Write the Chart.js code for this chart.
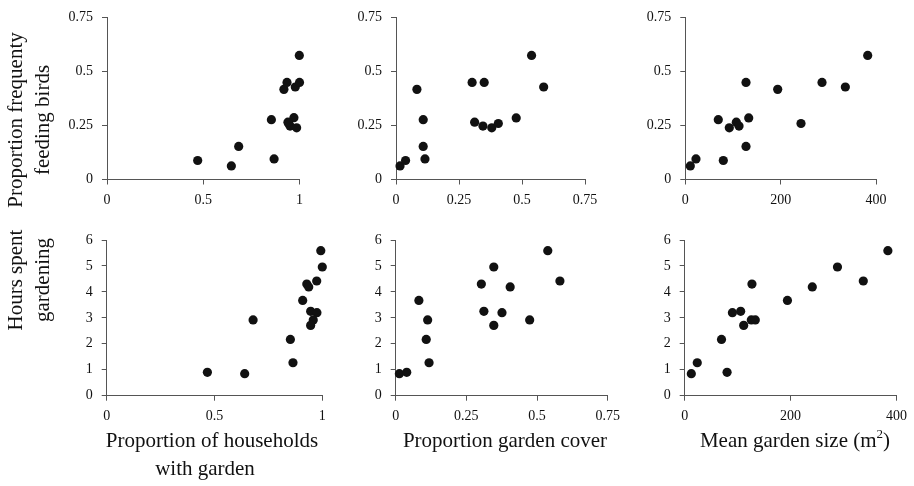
<!DOCTYPE html>
<html><head><meta charset="utf-8">
<script src="https://cdn.jsdelivr.net/npm/chart.js@4"></script>
<style>
html,body{margin:0;padding:0;background:#fff;}
#wrap{position:relative;width:914px;height:486px;overflow:hidden;font-family:'Liberation Serif','Times New Roman',serif;color:#111;}
canvas{position:absolute;left:0;top:0;}
.t{position:absolute;font-size:21px;line-height:21px;white-space:nowrap;transform:translateX(-50%);}
.r{position:absolute;font-size:21px;line-height:27px;white-space:nowrap;text-align:center;transform:translate(-50%,-50%) rotate(-90deg);}
sup{font-size:13px;line-height:0;vertical-align:9px;}
</style></head>
<body>
<div id="wrap">
  <div class="r" style="left:29px;top:120px;">Proportion frequenty<br>feeding birds</div>
  <div class="r" style="left:29px;top:280px;">Hours spent<br>gardening</div>
  <div class="t" style="left:212px;top:430px;">Proportion of households</div>
  <div class="t" style="left:205px;top:458px;">with garden</div>
  <div class="t" style="left:505px;top:430px;">Proportion garden cover</div>
  <div class="t" style="left:795px;top:430px;">Mean garden size (m<sup>2</sup>)</div>
</div>
<script>
// Tick values and labels
const xTicksHouse = [0, 0.5, 1];
const xLabelsHouse = ['0', '0.5', '1'];
const xTicksCover = [0, 0.25, 0.5, 0.75];
const xLabelsCover = ['0', '0.25', '0.5', '0.75'];
const xTicksSize = [0, 200, 400];
const xLabelsSize = ['0', '200', '400'];
const yTicksFeed = [0, 0.25, 0.5, 0.75];
const yLabelsFeed = ['0', '0.25', '0.5', '0.75'];
const yTicksHours = [0, 1, 2, 3, 4, 5, 6];
const yLabelsHours = ['0', '1', '2', '3', '4', '5', '6'];

// Panel 1: households with garden vs proportion feeding birds
const houseFeedX = [0.471, 0.646, 0.684, 0.854, 0.868, 0.919, 0.935, 0.978, 0.999, 1.0, 0.971, 0.944, 0.951, 0.985, 0.940];
const houseFeedY = [0.088, 0.063, 0.153, 0.277, 0.095, 0.417, 0.449, 0.428, 0.574, 0.449, 0.286, 0.259, 0.247, 0.239, 0.265];
// Panel 2: garden cover vs proportion feeding birds
const coverFeedX = [0.016, 0.038, 0.083, 0.108, 0.108, 0.115, 0.302, 0.312, 0.350, 0.345, 0.380, 0.406, 0.477, 0.538, 0.586];
const coverFeedY = [0.063, 0.088, 0.417, 0.277, 0.153, 0.095, 0.449, 0.265, 0.449, 0.247, 0.239, 0.259, 0.285, 0.574, 0.428];
// Panel 3: garden size vs proportion feeding birds
const sizeFeedX = [10.5, 22.4, 79.7, 69.2, 92.3, 107, 112.7, 133, 127.3, 127.3, 193.8, 242.7, 286.8, 335.7, 382.6];
const sizeFeedY = [0.063, 0.095, 0.088, 0.277, 0.239, 0.265, 0.247, 0.285, 0.449, 0.153, 0.417, 0.259, 0.449, 0.428, 0.574];
// Panel 4: households with garden vs hours gardening
const houseHoursX = [0.467, 0.640, 0.679, 0.852, 0.864, 0.909, 0.928, 0.937, 0.974, 0.993, 1.0, 0.946, 0.975, 0.958, 0.946];
const houseHoursY = [0.90, 0.85, 2.92, 2.17, 1.27, 3.67, 4.30, 4.19, 4.42, 5.59, 4.96, 3.25, 3.20, 2.92, 2.71];
// Panel 5: garden cover vs hours gardening
const coverHoursX = [0.013, 0.039, 0.082, 0.113, 0.108, 0.118, 0.303, 0.312, 0.347, 0.347, 0.376, 0.405, 0.474, 0.538, 0.581];
const coverHoursY = [0.85, 0.90, 3.67, 2.92, 2.17, 1.27, 4.30, 3.25, 4.96, 2.71, 3.20, 4.19, 2.92, 5.59, 4.42];
// Panel 6: garden size vs hours gardening
const sizeHoursX = [12.5, 23.7, 69.5, 80.0, 90.1, 105.7, 111.4, 127, 125.8, 133.3, 194, 241, 288.5, 337.3, 383.7];
const sizeHoursY = [0.85, 1.27, 2.17, 0.90, 3.20, 3.25, 2.71, 4.30, 2.92, 2.92, 3.67, 4.19, 4.96, 4.42, 5.59];

const W = 914, H = 486, YW = 50, XH = 40;
const AX = '#555', TXT = '#111';
const FONT = {family: "'Liberation Serif', 'Times New Roman', serif", size: 14};

const panels = [
  {x: houseFeedX, y: houseFeedY, xt: xTicksHouse, xl: xLabelsHouse, yt: yTicksFeed, yl: yLabelsFeed, rect: [107, 15, 299.5, 179.5]},
  {x: coverFeedX, y: coverFeedY, xt: xTicksCover, xl: xLabelsCover, yt: yTicksFeed, yl: yLabelsFeed, rect: [396, 15, 585, 179.5]},
  {x: sizeFeedX, y: sizeFeedY, xt: xTicksSize, xl: xLabelsSize, yt: yTicksFeed, yl: yLabelsFeed, rect: [685.3, 15, 876, 179.5]},
  {x: houseHoursX, y: houseHoursY, xt: xTicksHouse, xl: xLabelsHouse, yt: yTicksHours, yl: yLabelsHours, rect: [106.7, 240, 322.3, 395.7]},
  {x: coverHoursX, y: coverHoursY, xt: xTicksCover, xl: xLabelsCover, yt: yTicksHours, yl: yLabelsHours, rect: [395.7, 240, 607.7, 395.7]},
  {x: sizeHoursX, y: sizeHoursY, xt: xTicksSize, xl: xLabelsSize, yt: yTicksHours, yl: yLabelsHours, rect: [684.7, 240, 897.7, 395.7]}
];

const wrap = document.getElementById('wrap');
panels.forEach(p => {
  const c = document.createElement('canvas');
  c.width = W; c.height = H;
  c.style.width = W + 'px'; c.style.height = H + 'px';
  wrap.insertBefore(c, wrap.firstChild);
  const [l, t, r, b] = p.rect;
  const axisCommon = {
    type: 'linear',
    grid: {drawOnChartArea: false, drawTicks: true, tickLength: 5, tickColor: AX, tickWidth: 1},
    border: {display: true, color: AX, width: 1}
  };
  new Chart(c, {
    type: 'scatter',
    data: {datasets: [{
      data: p.x.map((v, k) => ({x: v, y: p.y[k]})),
      pointRadius: 4.6, pointHoverRadius: 4.6,
      backgroundColor: '#111', borderColor: '#111', borderWidth: 0, clip: false
    }]},
    options: {
      responsive: false, animation: false, devicePixelRatio: 1, events: [],
      layout: {padding: {left: l - YW, top: t, right: W - r, bottom: H - b - XH}},
      plugins: {legend: {display: false}, tooltip: {enabled: false}},
      scales: {
        x: Object.assign({}, axisCommon, {
          min: p.xt[0], max: p.xt[p.xt.length - 1],
          afterBuildTicks: s => { s.ticks = p.xt.map(v => ({value: v})); },
          afterFit: s => { s.height = XH; },
          ticks: {padding: 7, font: FONT, color: TXT, maxRotation: 0, autoSkip: false,
                  callback: (v, i) => p.xl[i]}
        }),
        y: Object.assign({}, axisCommon, {
          min: p.yt[0], max: p.yt[p.yt.length - 1],
          afterBuildTicks: s => { s.ticks = p.yt.map(v => ({value: v})); },
          afterFit: s => { s.width = YW; },
          ticks: {padding: 9, font: FONT, color: TXT, autoSkip: false,
                  callback: (v, i) => p.yl[i]}
        })
      }
    }
  });
});
</script>
</body></html>
